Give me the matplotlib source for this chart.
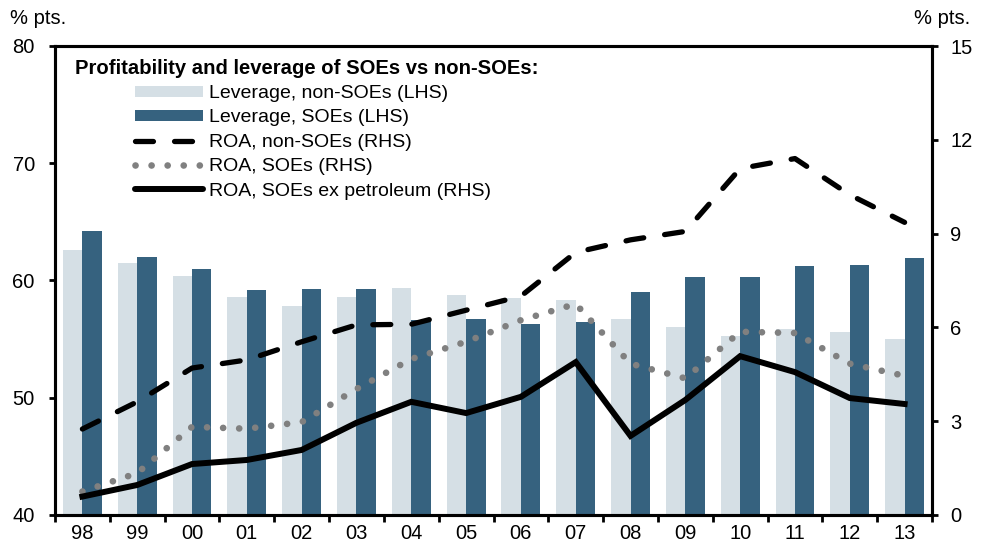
import numpy as np
import matplotlib
matplotlib.use("Agg")
import matplotlib.pyplot as plt
from matplotlib.lines import Line2D
from matplotlib.patches import Patch

plt.rcParams['font.family'] = ['Liberation Sans', 'DejaVu Sans']

years = ['98', '99', '00', '01', '02', '03', '04', '05',
         '06', '07', '08', '09', '10', '11', '12', '13']

# leverage (LHS, % pts)
lev_non_soe = [62.6, 61.5, 60.4, 58.6, 57.8, 58.6, 59.4, 58.8,
               58.5, 58.3, 56.7, 56.0, 55.3, 55.9, 55.6, 55.0]
lev_soe = [64.2, 62.0, 61.0, 59.2, 59.3, 59.3, 56.6, 56.7,
           56.3, 56.5, 59.0, 60.3, 60.3, 61.2, 61.3, 61.9]

# ROA (RHS, % pts)
roa_non_soe = [2.75, 3.62, 4.70, 4.96, 5.54, 6.08, 6.10, 6.55,
               7.00, 8.40, 8.80, 9.07, 11.08, 11.40, 10.24, 9.36]
roa_soe = [0.75, 1.34, 2.82, 2.76, 2.97, 4.03, 4.99, 5.54,
           6.23, 6.75, 4.84, 4.37, 5.86, 5.82, 4.84, 4.45]
roa_soe_ex_pet = [0.59, 0.96, 1.63, 1.76, 2.08, 2.95, 3.62, 3.26,
                  3.78, 4.89, 2.53, 3.68, 5.08, 4.57, 3.74, 3.55]

light = '#d5dfe5'
dark = '#36627f'
grey = '#808080'

dash = (0, (3.4, 4.0))
dots = (0, (0.01, 2.4))

fig = plt.figure(figsize=(9.83, 5.43), dpi=100)
ax = fig.add_axes([55 / 983, 1 - 515 / 543, 877 / 983, 469 / 543])
ax2 = ax.twinx()

x = np.arange(len(years))
w = 0.355
ax.bar(x - w / 2, lev_non_soe, width=w, color=light, zorder=1)
ax.bar(x + w / 2, lev_soe, width=w, color=dark, zorder=1)

ax2.plot(x, roa_non_soe, color='black', lw=3.8, linestyle=dash, dash_capstyle='round')
ax2.plot(x, roa_soe, color=grey, lw=4.8, linestyle=dots, dash_capstyle='round')
ax2.plot(x, roa_soe_ex_pet, color='black', lw=4.3, solid_joinstyle='miter')

ax.set_xlim(-0.5, len(years) - 0.5)
ax.set_ylim(40, 80)
ax.set_yticks([40, 50, 60, 70, 80])
ax2.set_ylim(0, 15)
ax2.set_yticks([0, 3, 6, 9, 12, 15])

ax.set_xticks(x)
ax.set_xticklabels(years)
ax.set_xticks(np.arange(-0.5, len(years)), minor=True)
ax.tick_params(axis='x', which='major', length=0, pad=6.5, labelsize=14.5)
ax.tick_params(axis='x', which='minor', length=5, width=2)
ax.tick_params(axis='y', length=4.5, width=2, pad=10, labelsize=14.5)
ax2.tick_params(axis='y', length=4.5, width=2, pad=8.5, labelsize=14.5)

for a in (ax, ax2):
    for s in a.spines.values():
        s.set_linewidth(2.2)

fig.text(10 / 983, 1 - 18 / 543, '% pts.', fontsize=14.5, va='center', ha='left')
fig.text(970 / 983, 1 - 18 / 543, '% pts.', fontsize=14.5, va='center', ha='right')

fig.text(75 / 983, 1 - 69 / 543, 'Profitability and leverage of SOEs vs non-SOEs:',
         fontsize=14.6, fontweight='bold', va='center', ha='left')

handles = [
    Patch(facecolor=light, edgecolor='none'),
    Patch(facecolor=dark, edgecolor='none'),
    Line2D([], [], color='black', lw=3.8, linestyle=dash, dash_capstyle='round'),
    Line2D([], [], color=grey, lw=4.8, linestyle=dots, dash_capstyle='round'),
    Line2D([], [], color='black', lw=4.3, solid_capstyle='round'),
]
labels = ['Leverage, non-SOEs (LHS)', 'Leverage, SOEs (LHS)', 'ROA, non-SOEs (RHS)',
          'ROA, SOEs (RHS)', 'ROA, SOEs ex petroleum (RHS)']
leg = fig.legend(handles, labels, loc='upper left',
                 bbox_to_anchor=(135 / 983, 1 - 85 / 543), frameon=False,
                 fontsize=14, handlelength=3.5, handleheight=0.5,
                 handletextpad=0.3, labelspacing=0.38, borderpad=0, borderaxespad=0)

fig.savefig('out.png', dpi=100)
